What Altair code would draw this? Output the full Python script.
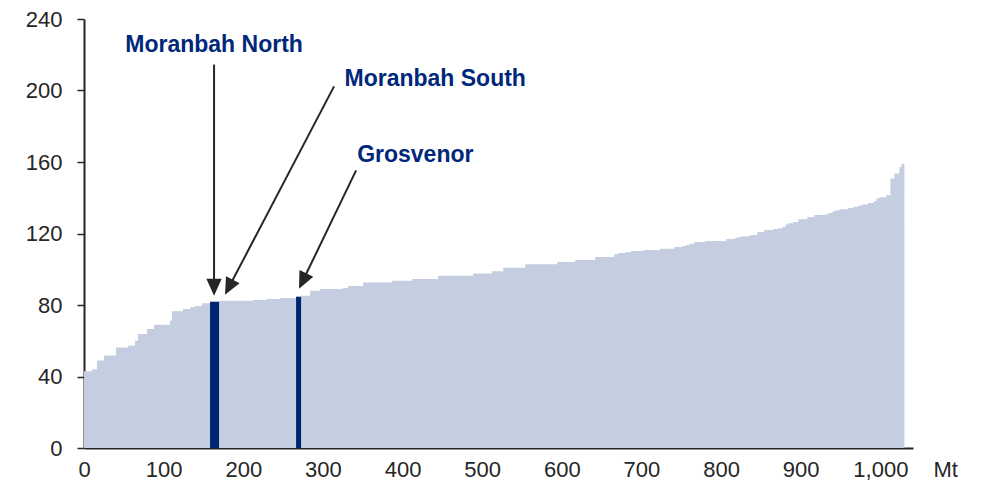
import math
import altair as alt
import pandas as pd

# Cost curve: cumulative capacity (Mt) at the right edge of each step, and unit cost
cum_end = [10.1, 16.3, 25.1, 40.2, 55.3, 64.1, 67.8, 79.1, 87.9, 108.0,
           110.6, 124.4, 133.2, 139.4, 148.2, 158.3, 169.6, 212.3, 228.6, 246.2,
           266.3, 272.6, 283.9, 296.5, 325.4, 331.7, 350.5, 386.9, 412.1, 444.7,
           488.7, 512.6, 526.4, 554.0, 594.2, 616.8, 642.0, 665.8, 670.9, 680.9,
           687.2, 703.5, 723.6, 741.2, 751.3, 756.3, 760.1, 766.3, 780.2, 806.5,
           817.8, 821.6, 826.6, 836.7, 845.5, 854.3, 865.6, 871.9, 876.9, 880.7,
           884.4, 890.7, 897.0, 908.3, 917.1, 930.9, 934.7, 939.7, 942.2, 948.5,
           959.8, 966.1, 972.4, 977.4, 984.9, 991.2, 995.0, 998.7, 1007.5, 1012.6,
           1017.6, 1023.9, 1026.4, 1030.2]
cost = [42.9, 44, 49, 51.8, 56.2, 57.2, 60, 63.8, 66.6, 69,
        71.3, 76.5, 77.8, 78.7, 79.5, 81, 81.8, 82.4, 82.8, 83.3,
        83.9, 84.6, 85.2, 88, 89, 89.5, 90.6, 92.6, 93.5, 94.5,
        96.3, 97.6, 98.9, 100.8, 102.8, 104, 105.2, 106.9, 108.4, 109.1,
        109.7, 110.2, 110.8, 111.4, 112.5, 113, 113.6, 114.3, 115.3, 115.8,
        116.9, 117.6, 118, 118.4, 119.2, 120.8, 121.9, 122.5, 123, 123.6,
        125.1, 125.8, 126.4, 128, 129.2, 130.3, 130.8, 131.4, 132.1, 132.9,
        133.6, 134.2, 134.9, 135.7, 136.2, 137, 138.1, 139.6, 140.3, 141.4,
        150.7, 153.5, 157, 159]

# highlighted mines (index into the steps above)
highlight_idx = [16, 21]
highlight_name = ["Moranbah North", "Grosvenor"]

# annotations: label position, arrow start and arrow tip (data units)
ann_name = ["Moranbah North", "Moranbah South", "Grosvenor"]
ann_text_x = [163.3, 441.0, 416.0]
ann_text_y = [225.5, 206.5, 163.8]
ann_start_x = [163.3, 314.0, 341.7]
ann_start_y = [214.5, 202.3, 155.3]
ann_tip_x = [163.3, 177.0, 270.0]
ann_tip_y = [85.2, 85.7, 89.1]

x_ticks = list(range(0, 1001, 100))
y_ticks = [0, 40, 80, 120, 160, 200, 240]

W, H = 829, 429
XMAX, YMAX = 1041, 240
sx, sy = W / XMAX, H / YMAX

LIGHT = "#c4cee0"
DARK = "#00246f"
NAVY_TXT = "#00287a"
INK = "#262626"
FONT = "Liberation Sans"

starts = [0.0] + cum_end[:-1]
area_df = pd.DataFrame({"x": starts + [cum_end[-1]], "y": cost + [cost[-1]]})

hl_df = pd.DataFrame({
    "name": highlight_name,
    "x0": [starts[i] for i in highlight_idx],
    "x1": [cum_end[i] for i in highlight_idx],
    "c": [cost[i] for i in highlight_idx],
})

rows = []
for n, tx, ty, x0, y0, x1, y1 in zip(ann_name, ann_text_x, ann_text_y,
                                     ann_start_x, ann_start_y, ann_tip_x, ann_tip_y):
    dxp = (x1 - x0) * sx
    dyp = -(y1 - y0) * sy
    L = math.hypot(dxp, dyp)
    ux, uy = dxp / L, dyp / L
    ang = math.degrees(math.atan2(-dxp, dyp)) % 360
    back = 13
    ex = x1 - ux * back / sx
    ey = y1 + uy * back / sy
    rows.append(dict(name=n, tx=tx, ty=ty, x0=x0, y0=y0, ex=ex, ey=ey,
                     tipx=x1, tipy=y1, angle=ang))
ann_df = pd.DataFrame(rows)

xscale = alt.Scale(domain=[0, XMAX], nice=False, zero=True)
yscale = alt.Scale(domain=[0, YMAX], nice=False)

base = alt.Chart(area_df).mark_area(interpolate="step-after", color=LIGHT).encode(
    x=alt.X("x:Q", scale=xscale,
            axis=alt.Axis(values=x_ticks, format=",d", grid=False, ticks=False,
                          tickSize=0, labelPadding=11, labelFontSize=22,
                          labelFont=FONT, labelColor=INK, domainColor=INK,
                          domainWidth=2, labelFlush=False,
                          title="Mt", titleFont=FONT, titleFontSize=22,
                          titleFontWeight="normal", titleColor=INK,
                          titleX=W + 20, titleY=11, titleAlign="left",
                          titleBaseline="top")),
    y=alt.Y("y:Q", scale=yscale,
            axis=alt.Axis(values=y_ticks, grid=False, tickSize=7, tickWidth=1.5,
                          tickColor=INK, labelPadding=15, labelFontSize=22,
                          labelFont=FONT, labelColor=INK, domainColor=INK,
                          domainWidth=2, title=None)),
)

hl = alt.Chart(hl_df).mark_rect(color=DARK).encode(
    x=alt.X("x0:Q", scale=xscale), x2="x1:Q",
    y=alt.Y("c:Q", scale=yscale), y2=alt.datum(0),
)

lines = alt.Chart(ann_df).mark_rule(color=INK, strokeWidth=2).encode(
    x=alt.X("x0:Q", scale=xscale), y=alt.Y("y0:Q", scale=yscale),
    x2="ex:Q", y2="ey:Q",
)

heads = alt.Chart(ann_df).mark_point(
    shape="M0,0L-0.45,-1L0.45,-1Z", size=1156, filled=True, color=INK, opacity=1
).encode(
    x=alt.X("tipx:Q", scale=xscale), y=alt.Y("tipy:Q", scale=yscale),
    angle=alt.Angle("angle:Q", scale=None),
)

labels = alt.Chart(ann_df).mark_text(
    font=FONT, fontSize=23, fontWeight="bold", color=NAVY_TXT,
    align="center", baseline="middle"
).encode(
    x=alt.X("tx:Q", scale=xscale), y=alt.Y("ty:Q", scale=yscale), text="name:N",
)

chart = alt.layer(base, hl, lines, heads, labels).properties(
    width=W, height=H, autosize="none",
    padding={"left": 76, "top": 11, "right": 60, "bottom": 32},
).configure_view(stroke=None)

chart.save("out.html", embed_options={"renderer": "svg", "actions": False})
